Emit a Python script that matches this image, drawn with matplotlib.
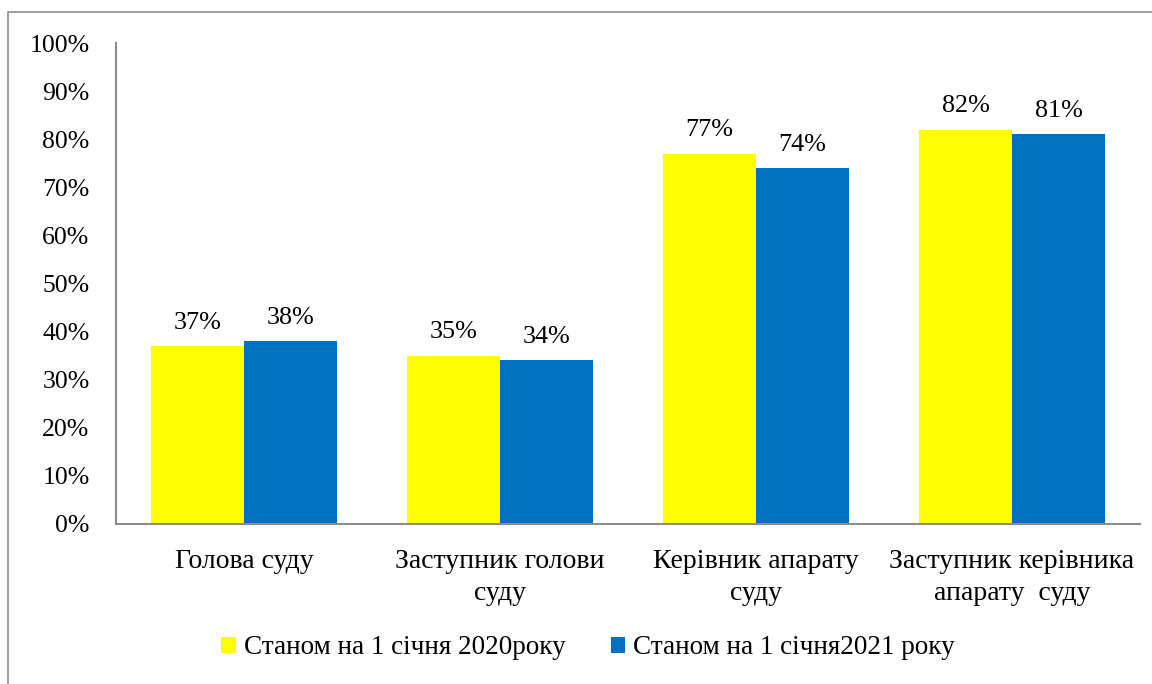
import matplotlib.pyplot as plt
import numpy as np
from matplotlib.patches import Rectangle

plt.rcParams['font.family'] = ['Liberation Serif', 'DejaVu Serif']

categories = ['Голова суду', 'Заступник голови\nсуду', 'Керівник апарату\nсуду',
              'Заступник керівника\nапарату  суду']
series_names = ['Станом на 1 січня 2020року', 'Станом на 1 січня2021 року']
values_2020 = [37, 35, 77, 82]
values_2021 = [38, 34, 74, 81]
colors = ['#FFFF00', '#0070C0']
y_ticks = [0, 10, 20, 30, 40, 50, 60, 70, 80, 90, 100]

fig = plt.figure(figsize=(11.52, 6.84), dpi=100)
ax = fig.add_axes([116 / 1152, 1 - 524 / 684, 1024 / 1152, 481 / 684])

# outer frame of the chart area
frame = Rectangle((8 / 1152, -0.5), 2, 0.5 + (1 - 12 / 684), transform=fig.transFigure,
                  fill=False, edgecolor='#8c8c8c', lw=1.2)
fig.patches.append(frame)

x = np.arange(len(categories))
w = 0.363
for i, (vals, name) in enumerate(zip([values_2020, values_2021], series_names)):
    bars = ax.bar(x + (i - 0.5) * w, vals, width=w, color=colors[i], label=name)
    for b, v in zip(bars, vals):
        ax.annotate(f'{v}%', (b.get_x() + b.get_width() / 2, v), xytext=(0, 9),
                    textcoords='offset points', ha='center', va='bottom', fontsize=18.8)

ax.set_xlim(-0.5, len(categories) - 0.5)
ax.set_ylim(0, 100)
ax.set_yticks(y_ticks)
ax.set_yticklabels([f'{t}%' for t in y_ticks], fontsize=18.5)
ax.set_xticks(x)
ax.set_xticklabels(categories, fontsize=20, linespacing=1.38)
ax.tick_params(length=0)
ax.tick_params(axis='y', pad=19)
ax.tick_params(axis='x', pad=18)
for s in ['top', 'right']:
    ax.spines[s].set_visible(False)
for s in ['left', 'bottom']:
    ax.spines[s].set_color('#8c8c8c')
    ax.spines[s].set_linewidth(1.5)

fig.legend(loc='center', bbox_to_anchor=(588 / 1152, 1 - 648 / 684), ncol=2, frameon=False,
           fontsize=19.5, handlelength=0.52, handleheight=0.52, handletextpad=0.3,
           columnspacing=1.67)

fig.savefig('out.png', dpi=100)
